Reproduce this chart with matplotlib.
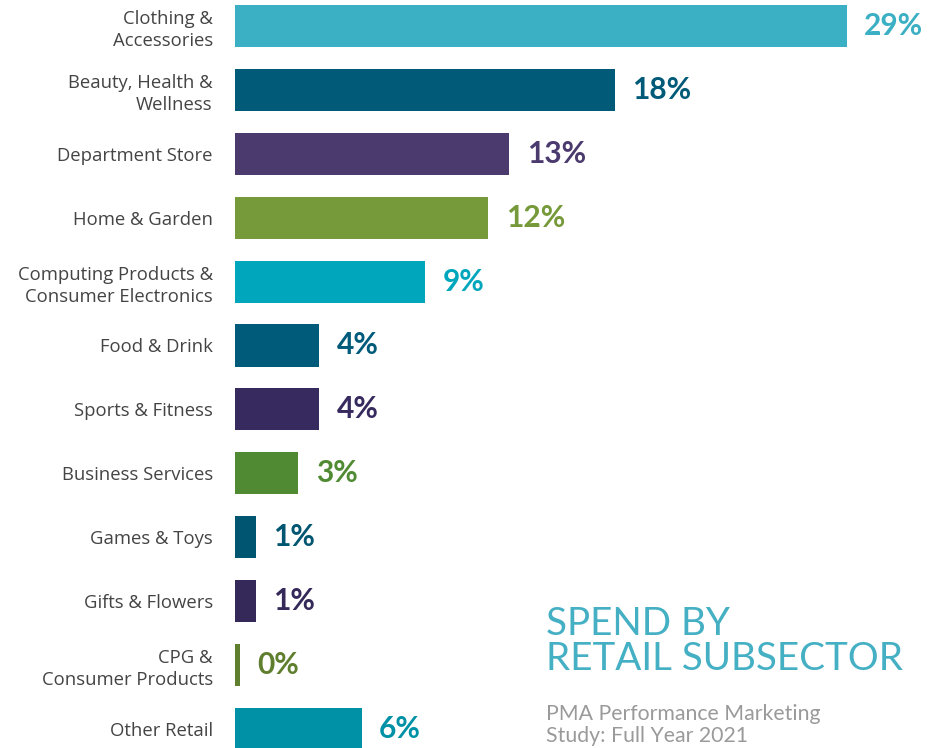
import numpy as np
import matplotlib.pyplot as plt

# categorias e valores (%)
categorias = ["Clothing &\nAccessories", "Beauty, Health &\nWellness", "Department Store",
              "Home & Garden", "Computing Products &\nConsumer Electronics", "Food & Drink",
              "Sports & Fitness", "Business Services", "Games & Toys", "Gifts & Flowers",
              "CPG &\nConsumer Products", "Other Retail"]
valores = [29, 18, 13, 12, 9, 4, 4, 3, 1, 1, 0.25, 6]
rotulos = ["29%", "18%", "13%", "12%", "9%", "4%", "4%", "3%", "1%", "1%", "0%", "6%"]
cores = ["#3BAFC3", "#005A78", "#4B3A6E", "#76993A", "#00A6BB", "#005A7A",
         "#372A5E", "#508B34", "#005571", "#35295A", "#5F7E2E", "#0091A6"]

W, H, dpi = 934, 748, 100
fig = plt.figure(figsize=(W / dpi, H / dpi), dpi=dpi)
ax = fig.add_axes([235 / W, 0, 1 - 235 / W, 1])

y = np.arange(len(categorias))
ax.barh(y, valores, height=0.66, color=cores)

for i, (v, r, c) in enumerate(zip(valores, rotulos, cores)):
    ax.annotate(r, (v, i), xytext=(12.5, 0), textcoords="offset points",
                va="center", ha="left", fontsize=21.5, fontweight="bold",
                color=c, family="Lato")

ax.set_xlim(0, (W - 235) / 21.1)
ax.set_ylim((H - 26) / 63.9, -26 / 63.9)
ax.set_yticks(y)
ax.set_yticklabels(categorias, fontsize=13.3, color="#444444", family="Open Sans",
                   linespacing=1.3)
ax.tick_params(axis="y", length=0, pad=16)
ax.set_xticks([])
for s in ax.spines.values():
    s.set_visible(False)

# título
fig.text(546 / W, 1 - 670 / H, "SPEND BY\nRETAIL SUBSECTOR", fontsize=27.8,
         color="#45B0C4", family="Lato", linespacing=0.95, va="baseline")
fig.text(546 / W, 1 - 742 / H, "PMA Performance Marketing\nStudy: Full Year 2021",
         fontsize=15.3, color="#9A9A9A", family="Lato", linespacing=1.15, va="baseline")

plt.savefig("out.png", dpi=dpi)
